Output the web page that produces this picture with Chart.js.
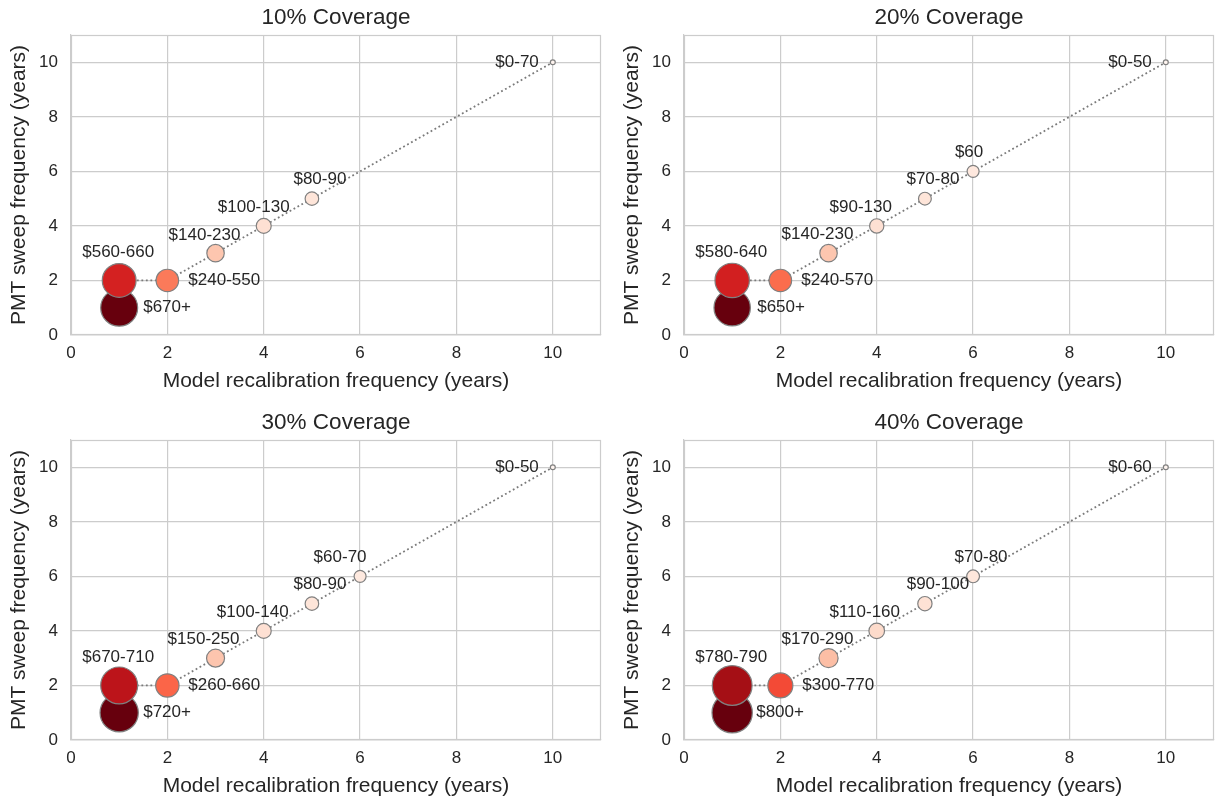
<!DOCTYPE html>
<html>
<head>
<meta charset="utf-8">
<title>Surveillance cost by sweep and recalibration frequency</title>
<script src="https://cdn.jsdelivr.net/npm/chart.js@4.4.1/dist/chart.umd.min.js"></script>
<style>
  html, body { margin: 0; padding: 0; background: #ffffff; overflow: hidden; }
  #wrap { position: relative; width: 1225px; height: 799px; }
  .panel { position: absolute; width: 612px; height: 400px; }
  .panel canvas { display: block; }
</style>
</head>
<body>
<div id="wrap">
  <div class="panel" style="left:0;top:0"><canvas id="c0" width="612" height="400"></canvas></div>
  <div class="panel" style="left:613px;top:0"><canvas id="c1" width="612" height="400"></canvas></div>
  <div class="panel" style="left:0;top:405px"><canvas id="c2" width="612" height="400"></canvas></div>
  <div class="panel" style="left:613px;top:405px"><canvas id="c3" width="612" height="400"></canvas></div>
</div>
<script>
// ---- data: intervals in years, ordered from most to least frequent ----
const panelTitles = ['10% Coverage', '20% Coverage', '30% Coverage', '40% Coverage'];

const recal10 = [1, 1, 2, 3, 4, 5, 10];
const sweep10 = [1, 2, 2, 3, 4, 5, 10];
const costLow10 = [670, 560, 240, 140, 100, 80, 0];
const costText10 = ['$670+', '$560-660', '$240-550', '$140-230', '$100-130', '$80-90', '$0-70'];

const recal20 = [1, 1, 2, 3, 4, 5, 6, 10];
const sweep20 = [1, 2, 2, 3, 4, 5, 6, 10];
const costLow20 = [650, 580, 240, 140, 90, 70, 60, 0];
const costText20 = ['$650+', '$580-640', '$240-570', '$140-230', '$90-130', '$70-80', '$60', '$0-50'];

const recal30 = [1, 1, 2, 3, 4, 5, 6, 10];
const sweep30 = [1, 2, 2, 3, 4, 5, 6, 10];
const costLow30 = [720, 670, 260, 150, 100, 80, 60, 0];
const costText30 = ['$720+', '$670-710', '$260-660', '$150-250', '$100-140', '$80-90', '$60-70', '$0-50'];

const recal40 = [1, 1, 2, 3, 4, 5, 6, 10];
const sweep40 = [1, 2, 2, 3, 4, 5, 6, 10];
const costLow40 = [800, 780, 300, 170, 110, 90, 70, 0];
const costText40 = ['$800+', '$780-790', '$300-770', '$170-290', '$110-160', '$90-100', '$70-80', '$0-60'];

const axisTicks = [0, 2, 4, 6, 8, 10];

// ---- styling ----
const fills10 = ['#67000d', '#d42121', '#fb7a5a', '#fdc6af', '#fee0d3', '#fee5d9', '#fff5f0'];
const fills20 = ['#67000d', '#d21f20', '#fb6d4d', '#fdc6af', '#fee0d3', '#fee5d9', '#fee8de', '#fff5f0'];
const fills30 = ['#67000d', '#bc141a', '#fb6548', '#fdc5ae', '#fee0d3', '#fee5d9', '#fee9df', '#fff5f0'];
const fills40 = ['#67000d', '#a50f15', '#f34a36', '#fcbea5', '#fddbcb', '#fee2d5', '#fee7dc', '#fff5f0'];

// label placement: [dx, dy, align]
const place10 = [[24, 0, 'left'], [-1, -28, 'center'], [21, 0, 'left'], [-11, -18, 'center'],
                 [-10, -19, 'center'], [8, -19, 'center'], [-14, 0, 'right']];
const place20 = [[25, 0, 'left'], [-1, -28, 'center'], [21, 0, 'left'], [-11, -19, 'center'],
                 [-16, -19, 'center'], [8, -19, 'center'], [-4, -19, 'center'], [-14, 0, 'right']];
const place30 = [[24, 0, 'left'], [-1, -28, 'center'], [21, 0, 'left'], [-12, -19, 'center'],
                 [-11, -19, 'center'], [8, -19, 'center'], [-20, -19, 'center'], [-14, 0, 'right']];
const place40 = [[24, 0, 'left'], [-1, -28, 'center'], [22, 0, 'left'], [-11, -19, 'center'],
                 [-12, -19, 'center'], [13, -19, 'center'], [8, -19, 'center'], [-14, 0, 'right']];

const panels = [
  { title: panelTitles[0], x: recal10, y: sweep10, low: costLow10, text: costText10, fill: fills10, place: place10 },
  { title: panelTitles[1], x: recal20, y: sweep20, low: costLow20, text: costText20, fill: fills20, place: place20 },
  { title: panelTitles[2], x: recal30, y: sweep30, low: costLow30, text: costText30, fill: fills30, place: place30 },
  { title: panelTitles[3], x: recal40, y: sweep40, low: costLow40, text: costText40, fill: fills40, place: place40 }
];

const FONT = "'Liberation Sans', Arial, Helvetica, sans-serif";
const INK = '#262626';
const GRID = '#cccccc';

Chart.defaults.font.family = FONT;
Chart.defaults.color = INK;

// marker area grows with the lower bound of the cost band
function bubbleRadius(low) { return Math.sqrt(6 + 0.5 * low); }

// light frame on all four sides of the plotting area
const framePlugin = {
  id: 'frame',
  beforeDatasetsDraw(chart) {
    const { ctx, chartArea: a } = chart;
    ctx.save();
    ctx.strokeStyle = GRID;
    ctx.lineWidth = 1.2;
    ctx.strokeRect(Math.round(a.left) + 0.5, Math.round(a.top) + 0.5,
                   Math.round(a.right - a.left) - 1, Math.round(a.bottom - a.top) - 1);
    ctx.restore();
  }
};

// panel heading centred over the plotting area
const headingPlugin = {
  id: 'heading',
  afterDraw(chart, args, opts) {
    const { ctx, chartArea: a } = chart;
    ctx.save();
    ctx.font = '22.5px ' + FONT;
    ctx.fillStyle = INK;
    ctx.textAlign = 'center';
    ctx.textBaseline = 'middle';
    ctx.fillText(opts.text, (a.left + a.right) / 2, 18);
    ctx.restore();
  }
};

// cost band written next to each marker
const costLabelPlugin = {
  id: 'costLabels',
  afterDatasetsDraw(chart, args, opts) {
    const { ctx } = chart;
    const xs = chart.scales.x, ys = chart.scales.y;
    const ds = chart.data.datasets[0].data;
    ctx.save();
    ctx.font = '17px ' + FONT;
    ctx.fillStyle = INK;
    ctx.textBaseline = 'middle';
    ds.forEach((pt, i) => {
      const [dx, dy, align] = opts.place[i];
      ctx.textAlign = align;
      ctx.fillText(opts.text[i], xs.getPixelForValue(pt.x) + dx, ys.getPixelForValue(pt.y) + dy);
    });
    ctx.restore();
  }
};

panels.forEach((p, k) => {
  const points = p.x.map((xv, i) => ({ x: xv, y: p.y[i] }));
  new Chart(document.getElementById('c' + k), {
    type: 'scatter',
    data: {
      datasets: [{
        data: points,
        showLine: true,
        borderColor: '#7a7a7a',
        borderWidth: 1.8,
        borderDash: [1.8, 2.7],
        pointRadius: p.low.map(bubbleRadius),
        pointBackgroundColor: p.fill,
        pointBorderColor: '#808080',
        pointBorderWidth: 1.2,
        clip: false
      }]
    },
    options: {
      responsive: false,
      animation: false,
      events: [],
      layout: { autoPadding: false, padding: { top: 35, right: 11, bottom: 0, left: 0 } },
      plugins: {
        legend: { display: false },
        tooltip: { enabled: false },
        heading: { text: p.title },
        costLabels: { text: p.text, place: p.place }
      },
      scales: {
        x: {
          type: 'linear',
          min: 0, max: 11,
          afterBuildTicks(scale) { scale.ticks = axisTicks.map(v => ({ value: v })); },
          afterFit(scale) { scale.height = 65; },
          ticks: { font: { size: 17 }, color: INK, padding: 8, includeBounds: false, maxRotation: 0 },
          grid: { color: GRID, lineWidth: 1.2, drawTicks: false },
          border: { display: true, color: GRID, width: 1.2 },
          title: { display: true, text: 'Model recalibration frequency (years)',
                   font: { size: 21 }, color: INK, padding: { top: 0, bottom: 6 } }
        },
        y: {
          type: 'linear',
          min: 0, max: 11,
          afterBuildTicks(scale) { scale.ticks = axisTicks.map(v => ({ value: v })); },
          afterFit(scale) { scale.width = 71; },
          ticks: { font: { size: 17 }, color: INK, padding: 13, includeBounds: false },
          grid: { color: GRID, lineWidth: 1.2, drawTicks: false },
          border: { display: true, color: GRID, width: 1.2 },
          title: { display: true, text: 'PMT sweep frequency (years)',
                   font: { size: 21 }, color: INK, padding: { top: 7, bottom: 0 } }
        }
      }
    },
    plugins: [framePlugin, headingPlugin, costLabelPlugin]
  });
});
</script>
</body>
</html>
